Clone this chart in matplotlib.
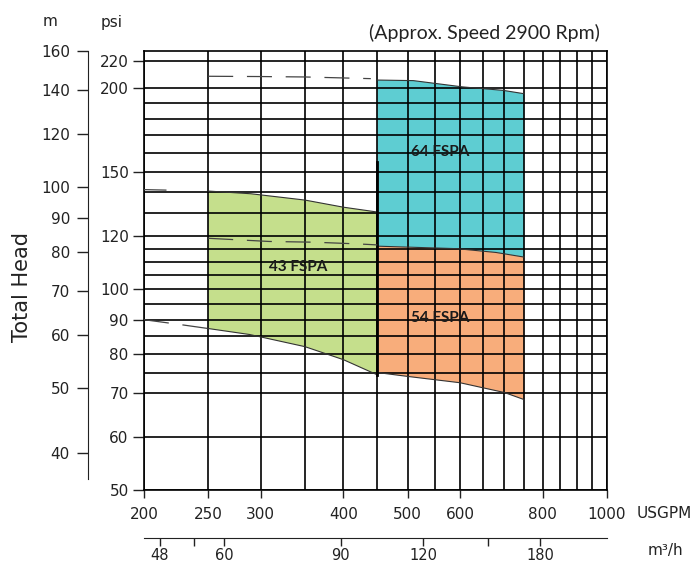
import matplotlib
matplotlib.use('Agg')
import matplotlib.pyplot as plt
from matplotlib.ticker import NullLocator, FixedLocator, FixedFormatter

# unit conversions for the secondary scales
PSI_PER_M = 1.4219
M3H_PER_GPM = 0.22712

# grid / tick values
gpm_grid = [200, 250, 300, 350, 400, 450, 500, 550, 600, 650, 700, 750, 800, 850, 900, 950, 1000]
psi_grid = [50, 60, 70, 75, 80, 85, 90, 95, 100, 105, 110, 115, 120,
            130, 140, 150, 160, 170, 180, 190, 200, 220]
gpm_ticks = [200, 250, 300, 400, 500, 600, 800, 1000]
psi_ticks = [50, 60, 70, 80, 90, 100, 120, 150, 200, 220]
m_ticks = [40, 50, 60, 70, 80, 90, 100, 120, 140, 160]
m3h_ticks = [48, 54, 60, 90, 120, 150, 180]
m3h_labels = ['48', '', '60', '90', '120', '', '180']

# 43 FSPA region (USGPM, psi)
fspa43_q = [250, 290, 350, 400, 450]
fspa43_top = [140.3, 139.0, 136.0, 132.7, 130.5]
fspa43_bot_q = [250, 289, 350, 400, 450]
fspa43_bot = [87.3, 85.5, 82.0, 78.4, 74.4]

# 64 FSPA region
fspa64_q = [450, 510, 605, 697, 750]
fspa64_top = [205.8, 205.4, 201.0, 198.6, 196.3]

# 54 FSPA region (its top is the 64 FSPA bottom)
fspa54_top_q = [450, 594, 680, 750]
fspa54_top = [116.0, 115.0, 113.5, 111.7]
fspa54_bot_q = [450, 500, 600, 700, 750]
fspa54_bot = [75.0, 74.0, 72.4, 70.0, 68.3]

# dashed reference curves
dash_top_q = [250, 300, 350, 400, 440]
dash_top = [208.5, 208.3, 208.0, 207.3, 206.8]
dash_mid_q = [250, 309, 361, 421, 450]
dash_mid = [119.2, 117.9, 117.6, 116.9, 116.5]
dash_low_q = [200, 225, 250]
dash_low = [90.0, 88.6, 87.3]
dash_hi_q = [200, 250]
dash_hi = [141.0, 140.3]

green = '#c5df8c'
cyan = '#5ecdd2'
orange = '#f8ad7b'
axis_font = 'DejaVu Sans'
ink = '#222222'

fig = plt.figure(figsize=(7, 5.65), dpi=100)
ax = fig.add_axes([144 / 700, 1 - 490 / 565, 463 / 700, 439 / 565])
ax.set_xscale('log')
ax.set_yscale('log')
ax.set_xlim(200, 1000)
ax.set_ylim(50, 160 * PSI_PER_M)

# shaded regions
ax.fill(fspa43_q + fspa43_bot_q[::-1], fspa43_top + fspa43_bot[::-1],
        color=green, lw=0, zorder=1)
ax.fill(fspa64_q + fspa54_top_q[::-1], fspa64_top + fspa54_top[::-1],
        color=cyan, lw=0, zorder=1)
ax.fill(fspa54_top_q + fspa54_bot_q[::-1], fspa54_top + fspa54_bot[::-1],
        color=orange, lw=0, zorder=1)

# grid
for q in gpm_grid:
    ax.axvline(q, color='black', lw=1.2, zorder=2)
for p in psi_grid:
    ax.axhline(p, color='black', lw=1.2, zorder=2)

# curve edges
edge = dict(color='#333333', lw=0.8, zorder=3)
ax.plot(fspa43_q, fspa43_top, **edge)
ax.plot(fspa43_bot_q, fspa43_bot, **edge)
ax.plot(fspa64_q, fspa64_top, **edge)
ax.plot(fspa54_top_q, fspa54_top, **edge)
ax.plot(fspa54_bot_q, fspa54_bot, **edge)
ax.plot([450, 450], [fspa43_bot[-1], 155], color='black', lw=2, zorder=3)

dash = dict(color='#444444', lw=0.9, zorder=3, ls=(0, (20, 11)))
ax.plot(dash_top_q, dash_top, **dash)
ax.plot(dash_mid_q, dash_mid, **dash)
ax.plot(dash_low_q, dash_low, **dash)
ax.plot(dash_hi_q, dash_hi, color='#444444', lw=0.9, zorder=3, ls=(0, (18, 60)))

# region labels
lab = dict(ha='center', va='center', fontsize=11, fontweight='bold',
           family='Lato', color='#1a1a1a', zorder=4)
ax.text(560, 160.4, '64 FSPA', **lab)
ax.text(342, 108, '43 FSPA', **lab)
ax.text(560, 90.4, '54 FSPA', **lab)

# main axes ticks
for s in ax.spines.values():
    s.set_color('black')
    s.set_linewidth(1.2)
ax.xaxis.set_major_locator(FixedLocator(gpm_ticks))
ax.xaxis.set_major_formatter(FixedFormatter([str(v) for v in gpm_ticks]))
ax.xaxis.set_minor_locator(NullLocator())
ax.yaxis.set_major_locator(FixedLocator(psi_ticks))
ax.yaxis.set_major_formatter(FixedFormatter([str(v) for v in psi_ticks]))
ax.yaxis.set_minor_locator(NullLocator())
ax.tick_params(axis='x', direction='out', length=6, width=1, pad=6,
               labelsize=11, colors=ink)
ax.tick_params(axis='y', direction='out', length=8, width=1, pad=3,
               labelsize=11, colors=ink)

# metres scale on the left
sec_m = ax.secondary_yaxis(-56 / 463, functions=(lambda p: p / PSI_PER_M,
                                                 lambda m: m * PSI_PER_M))
sec_m.yaxis.set_major_locator(FixedLocator(m_ticks))
sec_m.yaxis.set_major_formatter(FixedFormatter([str(v) for v in m_ticks]))
sec_m.yaxis.set_minor_locator(NullLocator())
sec_m.tick_params(direction='out', length=8, width=1, pad=5, labelsize=11,
                  colors=ink)
sec_m.spines['left'].set_bounds(36.5, 160)
sec_m.spines['left'].set_color(ink)

# m3/h scale below
sec_q = ax.secondary_xaxis(-48 / 439, functions=(lambda q: q * M3H_PER_GPM,
                                                 lambda v: v / M3H_PER_GPM))
sec_q.xaxis.set_major_locator(FixedLocator(m3h_ticks))
sec_q.xaxis.set_major_formatter(FixedFormatter(m3h_labels))
sec_q.xaxis.set_minor_locator(NullLocator())
sec_q.tick_params(direction='out', length=6, width=1, pad=1, labelsize=10.5,
                  colors=ink)
sec_q.spines['bottom'].set_color(ink)

# texts
fig.text(50 / 700, 1 - 22 / 565, 'm', ha='center', va='center', fontsize=11,
         family=axis_font, color=ink)
fig.text(112 / 700, 1 - 22 / 565, 'psi', ha='center', va='center', fontsize=11,
         family=axis_font, color=ink)
fig.text(484 / 700, 1 - 33 / 565, '(Approx. Speed 2900 Rpm)', ha='center',
         va='center', fontsize=14, family='Lato', color=ink)
fig.text(22 / 700, 1 - 287 / 565, 'Total Head', ha='center', va='center',
         rotation=90, fontsize=15, family=axis_font, color=ink)
fig.text(637 / 700, 1 - 514 / 565, 'USGPM', ha='left', va='center',
         fontsize=11, family=axis_font, color=ink)
fig.text(665 / 700, 1 - 550 / 565, 'm³/h', ha='center', va='center',
         fontsize=11, family=axis_font, color=ink)

fig.savefig('out.png', dpi=100)
